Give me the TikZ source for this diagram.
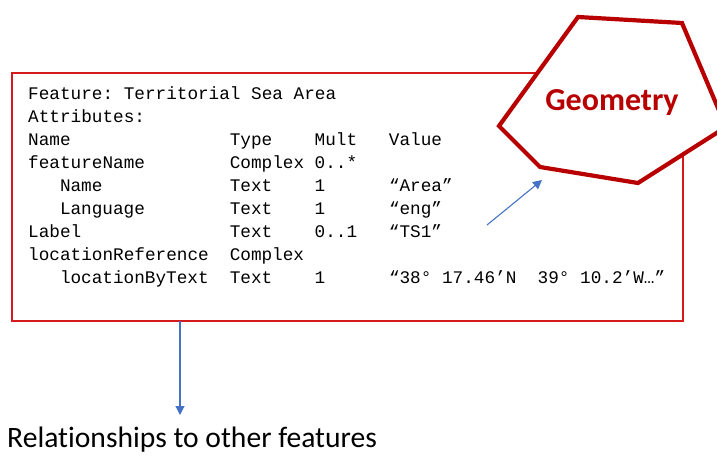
\documentclass[tikz,border=0pt]{standalone}
\usepackage{fontspec}
\usepackage[dvipsnames,svgnames,x11names]{xcolor}
\usepackage{array}
\usetikzlibrary{arrows.meta}
\newfontfamily\attrfont{Liberation Mono}
\newfontfamily\labelfont[Ligatures=NoCommon]{Carlito}
\definecolor{boxred}{HTML}{D41A1A}
\definecolor{geomred}{HTML}{B80000}
\definecolor{linkblue}{HTML}{4472C4}
\frenchspacing

\begin{document}
\begin{tikzpicture}[x=1pt,y=-1pt,>={Triangle[length=9pt,width=9pt]},
  attrtext/.style={anchor=base west,inner sep=0pt,text=black,font=\attrfont\fontsize{17.7}{23.1}\selectfont},
  link/.style={->,draw=linkblue,line width=1.1pt}]
\useasboundingbox (0,0) rectangle (717,455);
\node[rectangle,draw=boxred,line width=1.8pt,fill=white,minimum width=671pt,minimum height=248pt,inner sep=0pt] (feature) at (347.5,197) {};
\node[attrtext] (attrs) at (28,99) {\begin{tabular}[t]{@{}p{201.6pt}@{}p{84.9pt}@{}p{74.3pt}@{}l@{}}
\multicolumn{4}{@{}l@{}}{Feature: Territorial Sea Area}\\
\multicolumn{4}{@{}l@{}}{Attributes:}\\
Name & Type & Mult & Value\\
featureName & Complex & 0..* & \\
\hspace*{31.8pt}Name & Text & 1 & “Area”\\
\hspace*{31.8pt}Language & Text & 1 & “eng”\\
Label & Text & 0..1 & “TS1”\\
locationReference & Complex & & \\
\hspace*{31.8pt}locationByText & Text & 1 & “38° 17.46’N\ \ 39° 10.2’W…”
\end{tabular}};
% geometry shape sits on top of the box corner
\draw[draw=geomred,line width=4.2pt,line join=miter,fill=white] (578,17) -- (682,23) -- (726,127) -- (638,183) -- (540,167) -- (499,126) -- cycle;
\node[anchor=base,inner sep=0pt,text=geomred,font=\labelfont\bfseries\fontsize{32}{38}\selectfont] (geomlabel) at (612,110) {Geometry};
\node[anchor=base west,inner sep=0pt,text=black,font=\labelfont\fontsize{29.6}{35}\selectfont] (relations) at (7,447) {Relationships to other features};
\coordinate (valueout) at (487,225);
\coordinate (geomin) at (542,180);
\coordinate (featureout) at (180,321);
\coordinate (relationsin) at (180,415);
\draw[link] (valueout) -- (geomin);
\draw[link] (featureout) -- (relationsin);
\end{tikzpicture}
\end{document}
